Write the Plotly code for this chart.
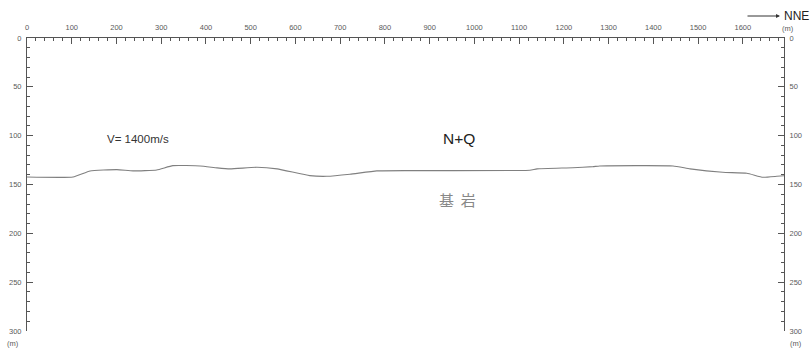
import plotly.graph_objects as go

# Interface (base of N+Q) profile: distance along section (m) vs depth (m)
dist_m = [0, 103, 141, 201, 237, 290, 326, 387, 425, 454, 514, 559, 632, 670,
          722, 782, 856, 1124, 1140, 1220, 1265, 1280, 1444, 1482, 1555, 1609,
          1645, 1676, 1692]
depth_m = [142.3, 142.3, 136.1, 134.8, 136.1, 135.1, 130.7, 131.0, 133.0, 134.0,
           132.3, 134.0, 140.9, 141.6, 139.5, 136.1, 135.8, 135.4, 134.0, 132.8,
           131.7, 131.0, 131.0, 134.0, 137.5, 138.5, 142.6, 141.6, 141.0]

x_ticks = [0, 100, 200, 300, 400, 500, 600, 700, 800, 900, 1000, 1100, 1200,
           1300, 1400, 1500, 1600]
y_ticks = [0, 50, 100, 150, 200, 250, 300]
x_max = 1692
y_max = 300

W, H = 811, 350
ML, MR, MT, MB = 27, 27, 38, 19
PW, PH = W - ML - MR, H - MT - MB

tick_font = dict(family="Liberation Sans, Arial", size=7.5, color="#5a5a5a")
axis_col = "#555555"


def px2paper(px, py):
    return (px - ML) / PW, 1 - (py - MT) / PH


fig = go.Figure()
fig.add_trace(go.Scatter(x=dist_m, y=depth_m, mode="lines",
                         line=dict(color="#808080", width=1.1, shape="spline", smoothing=0.4),
                         hoverinfo="skip", showlegend=False))
# invisible trace to anchor the right axis
fig.add_trace(go.Scatter(x=[0, x_max], y=[0, y_max], mode="markers",
                         marker=dict(opacity=0), yaxis="y2",
                         hoverinfo="skip", showlegend=False))

common_y = dict(
    range=[y_max, 0], tickvals=y_ticks,
    ticks="inside", ticklen=6, tickwidth=1, tickcolor=axis_col,
    showline=True, linecolor=axis_col, linewidth=1,
    showgrid=False, zeroline=False, tickfont=tick_font,
    ticklabelstandoff=3, automargin=False,
    minor=dict(dtick=10, tick0=0, ticks="inside", ticklen=3,
               tickcolor=axis_col, showgrid=False),
)

fig.update_layout(
    width=W, height=H,
    margin=dict(l=ML, r=MR, t=MT, b=MB, autoexpand=False),
    paper_bgcolor="white", plot_bgcolor="white",
    xaxis=dict(
        side="top", range=[0, x_max], tickvals=x_ticks,
        ticktext=[str(v) for v in x_ticks],
        ticks="inside", ticklen=6, tickwidth=1, tickcolor=axis_col,
        showline=True, linecolor=axis_col, linewidth=1,
        showgrid=False, zeroline=False, tickfont=tick_font,
        ticklabelstandoff=4, automargin=False,
        minor=dict(dtick=20, tick0=0, ticks="inside", ticklen=3,
                   tickcolor=axis_col, showgrid=False),
    ),
    yaxis=dict(**common_y),
    yaxis2=dict(overlaying="y", side="right", **common_y),
)

# Unit labels
for xp, yp in [(13, 343), (796, 343), (788, 29)]:
    ux, uy = px2paper(xp, yp)
    fig.add_annotation(x=ux, y=uy, xref="paper", yref="paper", text="(m)",
                       showarrow=False, font=tick_font,
                       xanchor="center", yanchor="middle")

# Layer labels
fig.add_annotation(x=248, y=103, text="V= 1400m/s", showarrow=False,
                   font=dict(family="Liberation Sans, Arial", size=11.5, color="#333333"))
fig.add_annotation(x=965, y=103, text="N+Q", showarrow=False,
                   font=dict(family="Liberation Sans, Arial", size=15.5, color="#222222"))
fig.add_annotation(x=963, y=165, text="基  岩", showarrow=False,
                   font=dict(family="Noto Sans CJK SC", size=15, color="#888888"))

# Direction arrow NNE
ax_, ay_ = px2paper(780, 16)
fig.add_annotation(x=ax_, y=ay_, ax=-34, ay=0,
                   xref="paper", yref="paper", axref="pixel", ayref="pixel",
                   text="", showarrow=True, arrowhead=2, arrowsize=0.8,
                   arrowwidth=1, arrowcolor="#333333")
nx, ny = px2paper(796, 16)
fig.add_annotation(x=nx, y=ny, xref="paper", yref="paper",
                   text="NNE", showarrow=False, xanchor="center", yanchor="middle",
                   font=dict(family="Liberation Sans, Arial", size=12, color="#222222"))

fig.write_html("out.html", config={"displayModeBar": False},
               post_script="document.body.style.margin='0';document.body.style.overflow='hidden';")
